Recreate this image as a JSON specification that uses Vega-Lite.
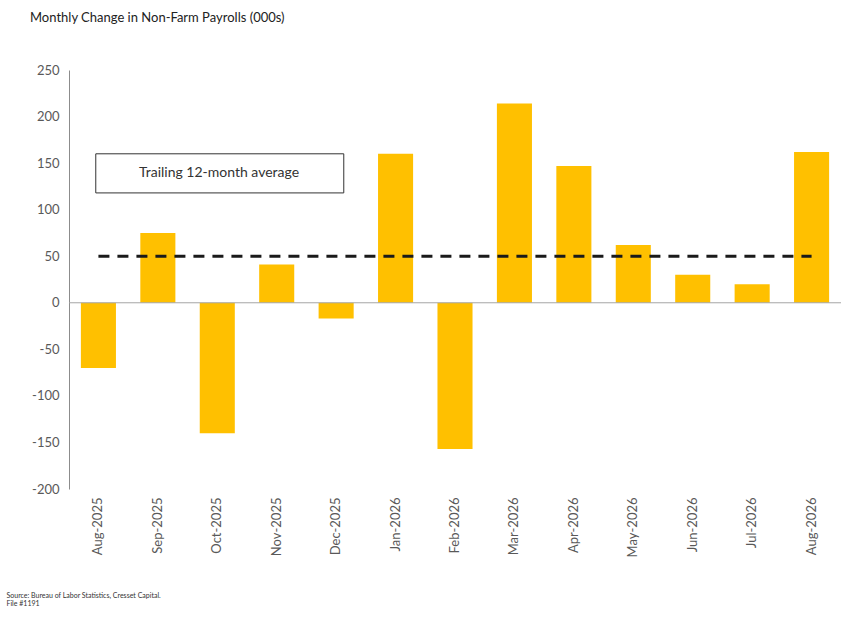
{
  "$schema": "https://vega.github.io/schema/vega-lite/v6.json",
  "width": 772,
  "height": 419,
  "autosize": {"type": "none"},
  "padding": {"left": 69, "top": 70, "right": 24, "bottom": 138},
  "background": "white",
  "title": {
    "text": "Monthly Change in Non-Farm Payrolls (000s)",
    "anchor": "start",
    "frame": "group",
    "dx": -39,
    "offset": 39,
    "font": "Lato",
    "fontSize": 13,
    "fontWeight": "normal",
    "color": "#222222"
  },
  "config": {
    "view": {"stroke": null},
    "font": "Lato",
    "axis": {"labelFont": "Lato", "titleFont": "Lato"}
  },
  "data": {
    "values": [
      {"month": "Aug-2025", "change": -70, "avg": 50},
      {"month": "Sep-2025", "change": 75, "avg": 50},
      {"month": "Oct-2025", "change": -140, "avg": 50},
      {"month": "Nov-2025", "change": 41, "avg": 50},
      {"month": "Dec-2025", "change": -17, "avg": 50},
      {"month": "Jan-2026", "change": 160, "avg": 50},
      {"month": "Feb-2026", "change": -157, "avg": 50},
      {"month": "Mar-2026", "change": 214, "avg": 50},
      {"month": "Apr-2026", "change": 147, "avg": 50},
      {"month": "May-2026", "change": 62, "avg": 50},
      {"month": "Jun-2026", "change": 30, "avg": 50},
      {"month": "Jul-2026", "change": 20, "avg": 50},
      {"month": "Aug-2026", "change": 162, "avg": 50}
    ]
  },
  "encoding": {
    "x": {
      "field": "month",
      "type": "nominal",
      "sort": null,
      "scale": {"paddingInner": 0.41, "paddingOuter": 0.2},
      "axis": {
        "orient": "bottom",
        "domain": false,
        "ticks": false,
        "labelAngle": -90,
        "labelAlign": "right",
        "labelBaseline": "middle",
        "labelPadding": 8,
        "labelFontSize": 13,
        "labelColor": "#595959",
        "title": ["Source: Bureau of Labor Statistics, Cresset Capital.", "File #1191"],
        "titleAnchor": "start",
        "titleAlign": "left",
        "titleBaseline": "top",
        "titleX": -63,
        "titleY": 102,
        "titleFontSize": 7,
        "titleLineHeight": 8,
        "titleFontWeight": "normal",
        "titleColor": "#333333"
      }
    }
  },
  "layer": [
    {
      "mark": {"type": "bar", "color": "#FFC000"},
      "encoding": {
        "y": {
          "field": "change",
          "type": "quantitative",
          "scale": {"domain": [-200, 250], "nice": false},
          "axis": {
            "values": [-200, -150, -100, -50, 0, 50, 100, 150, 200, 250],
            "labelExpr": "datum.value < 0 ? '-' + abs(datum.value) : '' + datum.value",
            "grid": false,
            "ticks": false,
            "domain": true,
            "domainColor": "#8c8c8c",
            "domainWidth": 1,
            "labelFontSize": 13,
            "labelColor": "#595959",
            "labelPadding": 10,
            "title": null
          }
        }
      }
    },
    {
      "data": {"values": [{}]},
      "mark": {"type": "rule", "color": "#a6a6a6", "strokeWidth": 1},
      "encoding": {"y": {"datum": 0, "type": "quantitative"}, "x": null}
    },
    {
      "mark": {"type": "line", "color": "#1a1a1a", "strokeWidth": 3, "strokeDash": [11, 8]},
      "encoding": {"y": {"field": "avg", "type": "quantitative"}}
    },
    {
      "data": {"values": [{}]},
      "mark": {"type": "rect", "fill": "white", "stroke": "#333333", "strokeWidth": 1, "width": 248, "xOffset": 2.5},
      "encoding": {
        "x": {"datum": "Oct-2025", "type": "nominal"},
        "y": {"datum": 160, "type": "quantitative"},
        "y2": {"datum": 118}
      }
    },
    {
      "data": {"values": [{}]},
      "mark": {"type": "text", "fontSize": 14, "color": "#333333", "align": "center", "baseline": "middle"},
      "encoding": {
        "x": {"datum": "Oct-2025", "type": "nominal", "bandPosition": 0.55},
        "y": {"datum": 139, "type": "quantitative"},
        "text": {"value": "Trailing 12-month average"}
      }
    }
  ]
}
